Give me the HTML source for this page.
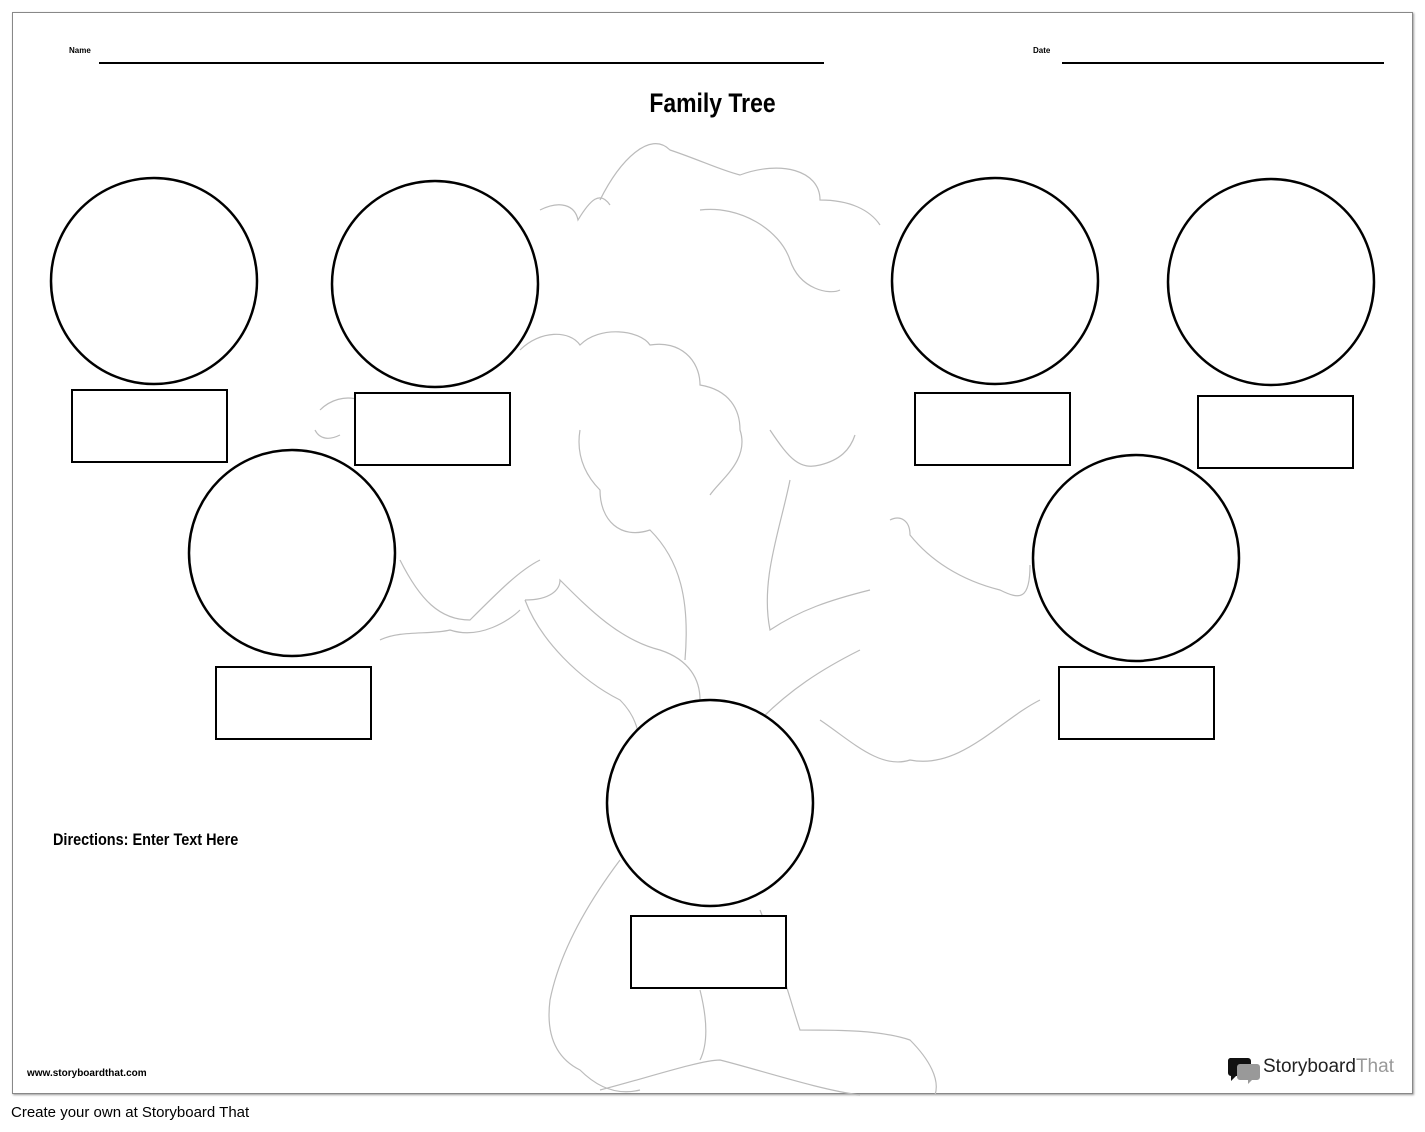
<!DOCTYPE html>
<html><head><meta charset="utf-8"><style>
body{margin:0;width:1425px;height:1132px;background:#fff;position:relative;font-family:"Liberation Sans",sans-serif;overflow:hidden}
.frame{position:absolute;left:12px;top:12px;width:1399px;height:1080px;border:1.5px solid #888;box-shadow:1px 1px 2px #999}
.t{position:absolute;font-weight:bold}
</style></head><body>
<div class="frame"></div>
<svg width="1425" height="1132" style="position:absolute;left:0;top:0">
<g fill="none" stroke="#bbb" stroke-width="1.2">
<path d="M600 200 C620 160 650 130 670 150 C700 160 720 170 740 175 C780 160 820 170 820 200 C850 200 870 210 880 225"/>
<path d="M540 210 C560 200 575 205 578 220 C590 200 600 190 610 205"/>
<path d="M700 210 C740 205 780 230 790 260 C800 290 830 295 840 290"/>
<path d="M520 350 C540 330 570 330 580 345 C600 325 640 330 650 345 C680 340 700 360 700 385 C730 390 740 410 740 430 C750 460 720 480 710 495"/>
<path d="M580 430 C575 460 590 480 600 490 C600 520 620 540 650 530 C680 560 690 600 685 660"/>
<path d="M770 430 C790 460 800 470 820 465 C840 460 850 450 855 435"/>
<path d="M790 480 C780 530 760 580 770 630 C800 610 830 600 870 590"/>
<path d="M890 520 C900 515 910 520 910 535 C930 560 960 580 1000 590 C1020 600 1030 600 1030 565"/>
<path d="M525 600 C550 600 560 590 560 580 C590 610 620 640 660 650 C690 660 700 680 700 700"/>
<path d="M525 600 C540 640 580 680 620 700 C640 720 640 740 640 760"/>
<path d="M760 720 C790 690 820 670 860 650"/>
<path d="M320 410 C330 400 345 395 360 400 M315 430 C320 440 330 440 340 435"/>
<path d="M400 560 C420 600 440 620 470 620 C500 590 520 570 540 560"/>
<path d="M380 640 C400 630 430 635 450 630 C480 640 510 620 520 610"/>
<path d="M820 720 C850 740 880 770 910 760 C960 770 1000 720 1040 700"/>
<path d="M620 860 C590 900 560 950 550 1000 C545 1040 560 1060 580 1070 C600 1090 620 1095 640 1090"/>
<path d="M760 910 C780 960 790 1000 800 1030 C840 1030 880 1030 910 1040 C930 1060 940 1080 935 1095"/>
<path d="M600 1090 C640 1080 700 1060 720 1060 C760 1070 820 1090 860 1095"/>
<path d="M700 990 C705 1010 710 1040 700 1060"/>
</g>
<g fill="#fff" stroke="#000" stroke-width="2.5">
<circle cx="154" cy="281" r="103"/><circle cx="435" cy="284" r="103"/>
<circle cx="995" cy="281" r="103"/><circle cx="1271" cy="282" r="103"/>
<circle cx="292" cy="553" r="103"/><circle cx="1136" cy="558" r="103"/>
<circle cx="710" cy="803" r="103"/>
</g>
<g fill="#fff" stroke="#000" stroke-width="2">
<rect x="72" y="390" width="155" height="72"/><rect x="355" y="393" width="155" height="72"/>
<rect x="915" y="393" width="155" height="72"/><rect x="1198" y="396" width="155" height="72"/>
<rect x="216" y="667" width="155" height="72"/><rect x="1059" y="667" width="155" height="72"/>
<rect x="631" y="916" width="155" height="72"/>
</g>
<line x1="99" y1="63" x2="824" y2="63" stroke="#000" stroke-width="2"/>
<line x1="1062" y1="63" x2="1384" y2="63" stroke="#000" stroke-width="2"/>
<path d="M1230 1058 h18 a3 3 0 0 1 3 3 v12 a3 3 0 0 1 -3 3 h-12 l-5 5 v-5 a3 3 0 0 1 -3 -3 v-12 a3 3 0 0 1 2 -3z" fill="#111"/>
<path d="M1240 1064 h17 a3 3 0 0 1 3 3 v10 a3 3 0 0 1 -3 3 h-5 l-4 4 v-4 h-8 a3 3 0 0 1 -3 -3 v-10 a3 3 0 0 1 3 -3z" fill="#999"/>
</svg>
<div class="t" style="left:69px;top:46px;font-size:8px">Name</div>
<div class="t" style="left:1033px;top:46px;font-size:8px">Date</div>
<div class="t" style="left:0;width:1425px;text-align:center;top:88px;font-size:27px;transform:scaleX(0.85)">Family Tree</div>
<div class="t" style="left:53px;top:830px;font-size:17px;transform:scaleX(0.85);transform-origin:left">Directions: Enter Text Here</div>
<div class="t" style="left:27px;top:1068px;font-size:10px">www.storyboardthat.com</div>
<div style="position:absolute;left:1263px;top:1056px;font-size:19px;color:#222">Storyboard<span style="color:#999">That</span></div>
<div style="position:absolute;left:11px;top:1104px;font-size:15px">Create your own at Storyboard That</div>
</body></html>
